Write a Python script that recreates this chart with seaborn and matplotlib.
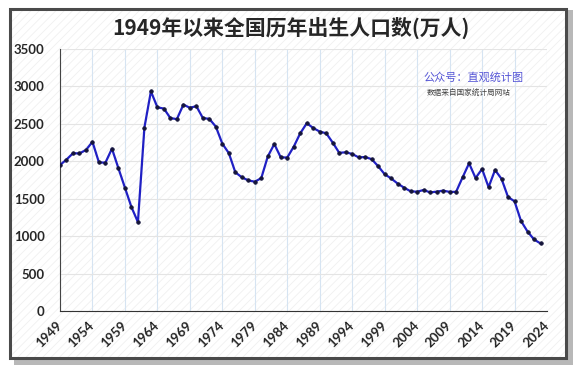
import numpy as np
import pandas as pd
import seaborn as sns
import matplotlib.pyplot as plt
from matplotlib.patches import Rectangle

# Datos: nacimientos anuales en China (万人)
years = list(range(1949, 2024))
births = [1950, 2023, 2107, 2105, 2151, 2260, 1984, 1982, 2169, 1906,
          1647, 1389, 1188, 2451, 2934, 2721, 2704, 2577, 2563, 2757,
          2715, 2736, 2578, 2566, 2463, 2235, 2109, 1853, 1786, 1745,
          1727, 1776, 2064, 2230, 2052, 2050, 2196, 2374, 2508, 2445,
          2396, 2374, 2250, 2113, 2120, 2098, 2052, 2057, 2028, 1934,
          1827, 1771, 1702, 1647, 1599, 1593, 1617, 1584, 1594, 1608,
          1591, 1592, 1785, 1973, 1776, 1897, 1655, 1883, 1765, 1523,
          1465, 1202, 1062, 956, 902]
xticks = list(range(1949, 2025, 5))
yticks = list(range(0, 3501, 500))

df = pd.DataFrame({'year': years, 'births': births})

sns.set_style('white')
plt.rcParams['font.family'] = ['Noto Sans CJK SC', 'DejaVu Sans']
plt.rcParams['hatch.linewidth'] = 0.6

fig = plt.figure(figsize=(5.76, 3.68), dpi=100)

# marco con sombra y fondo rayado
fig.patches.append(Rectangle((0.024, 0.008), 0.97, 0.965, transform=fig.transFigure,
                             facecolor='#8a8a8a', edgecolor='none', alpha=0.6, zorder=0))
fig.patches.append(Rectangle((0.018, 0.027), 0.964, 0.948, transform=fig.transFigure,
                             facecolor='white', edgecolor='#f0f0f0', hatch='////',
                             linewidth=0, zorder=1))
fig.patches.append(Rectangle((0.018, 0.027), 0.964, 0.948, transform=fig.transFigure,
                             facecolor='none', edgecolor='#4a4a4a', linewidth=2.2, zorder=2))

# ejes: x de 60 a 547 px, y de 49 a 311 px
ax = fig.add_axes([60 / 576, 57 / 368, 487 / 576, 262 / 368])
ax.set_zorder(5)
ax.patch.set_alpha(0)

sns.lineplot(data=df, x='year', y='births', ax=ax, color='#2020c4', linewidth=1.6,
             marker='o', markersize=2.6, markerfacecolor='#15153a',
             markeredgecolor='#15153a', markeredgewidth=0.5, zorder=3)

ax.set_xlim(1949, 2024)
ax.set_ylim(0, 3500)
ax.set_xticks(xticks)
ax.set_yticks(yticks)
ax.set_xticklabels([str(t) for t in xticks], rotation=45, fontsize=9.5,
                   fontweight='bold', family=['Lato', 'DejaVu Sans'],
                   ha='right', va='center', rotation_mode='anchor')
ax.set_yticklabels([str(t) for t in yticks], fontsize=9.5, fontweight='bold',
                   family=['Lato', 'DejaVu Sans'])
ax.set_xlabel('')
ax.set_ylabel('')

ax.grid(axis='x', color='#d6e4f2', linewidth=0.8)
ax.grid(axis='y', color='#e4e4e4', linewidth=0.8)
for s in ['top', 'right']:
    ax.spines[s].set_visible(False)
ax.spines['left'].set_color('#444444')
ax.spines['bottom'].set_color('#333333')
ax.tick_params(axis='both', length=3, width=0.8, color='#444444', direction='in')
ax.tick_params(axis='y', pad=11)
ax.tick_params(axis='x', pad=9)

fig.text(0.505, 0.925, '1949年以来全国历年出生人口数(万人)', ha='center', va='center',
         fontsize=15, fontweight='bold', zorder=6)
ax.text(0.85, 0.893, '公众号：直观统计图', transform=ax.transAxes, ha='center', va='center',
        fontsize=8, color='#5555d6')
ax.text(0.84, 0.83, '数据来自国家统计局网站', transform=ax.transAxes, ha='center', va='center',
        fontsize=5.5, color='#444444')

fig.savefig('out.png', dpi=100)
